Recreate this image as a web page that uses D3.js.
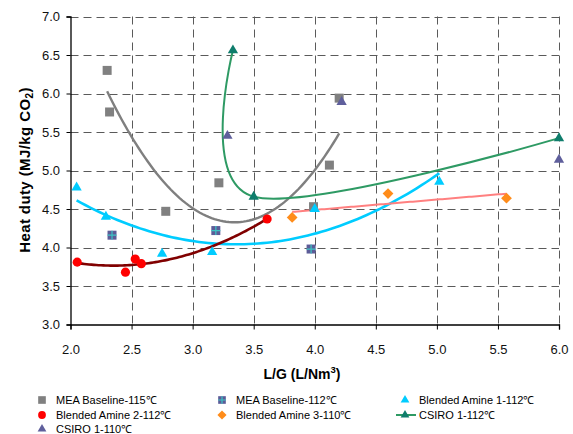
<!DOCTYPE html>
<html>
<head>
<meta charset="utf-8">
<script src="https://cdn.jsdelivr.net/npm/d3@7"></script>
<style>
  body { margin: 0; background: #fff; }
  text { font-family: "Liberation Sans", Arial, sans-serif; }
</style>
</head>
<body>
<svg id="chart" width="573" height="434"></svg>
<script>
// Axis ticks
const xTicks = [2.0, 2.5, 3.0, 3.5, 4.0, 4.5, 5.0, 5.5, 6.0];
const yTicks = [3.0, 3.5, 4.0, 4.5, 5.0, 5.5, 6.0, 6.5, 7.0];

// Measured heat duty vs liquid/gas ratio, one pair of arrays per solvent run
const meaBase115X = [2.30, 2.32, 2.78, 3.215, 3.99, 4.12, 4.20];
const meaBase115Y = [6.30, 5.76, 4.47, 4.84, 4.53, 5.07, 5.94];
const meaBase112X = [2.34, 3.19, 3.97];
const meaBase112Y = [4.16, 4.22, 3.98];
const blend1X = [2.05, 2.29, 2.75, 3.16, 4.00, 5.02];
const blend1Y = [4.78, 4.40, 3.92, 3.94, 4.50, 4.855];
const blend2X = [2.055, 2.45, 2.53, 2.58, 3.61];
const blend2Y = [3.81, 3.68, 3.85, 3.79, 4.37];
const blend3X = [3.815, 4.60, 5.57];
const blend3Y = [4.39, 4.70, 4.64];
const csiro112X = [3.33, 3.50, 6.00];
const csiro112Y = [6.56, 4.66, 5.42];
const csiro110X = [3.285, 4.22, 6.00];
const csiro110Y = [5.45, 5.89, 5.14];

const legendLabels = [
  "MEA Baseline-115\u2103", "MEA Baseline-112\u2103", "Blended Amine 1-112\u2103",
  "Blended Amine 2-112\u2103", "Blended Amine 3-110\u2103", "CSIRO 1-112\u2103",
  "CSIRO 1-110\u2103"
];

const svg = d3.select("#chart");
const plot = { left: 70.5, right: 559, top: 16.5, bottom: 324.5 };

const x = d3.scaleLinear().domain([2, 6]).range([plot.left, plot.right]);
const y = d3.scaleLinear().domain([3, 7]).range([plot.bottom, plot.top]);

// Dashed grid
const grid = svg.append("g").attr("stroke", "#5a5a5a").attr("stroke-width", 1)
  .attr("stroke-dasharray", "8,5");
grid.selectAll("line.h").data(yTicks.filter(d => d > 3)).join("line")
  .attr("x1", plot.left).attr("x2", plot.right)
  .attr("y1", d => Math.round(y(d)) + 0.5).attr("y2", d => Math.round(y(d)) + 0.5);
grid.selectAll("line.v").data(xTicks.filter(d => d > 2)).join("line")
  .attr("x1", d => Math.round(x(d)) + 0.5).attr("x2", d => Math.round(x(d)) + 0.5)
  .attr("y1", plot.top).attr("y2", plot.bottom);

// Axes
const xAxis = svg.append("g").attr("transform", `translate(0,${plot.bottom})`)
  .call(d3.axisBottom(x).tickValues(xTicks).tickFormat(d3.format(".1f"))
    .tickSize(5).tickPadding(15));
const yAxis = svg.append("g").attr("transform", `translate(${plot.left},0)`)
  .call(d3.axisLeft(y).tickValues(yTicks).tickFormat(d3.format(".1f"))
    .tickSize(4).tickPadding(6.5));
[xAxis, yAxis].forEach(a => {
  a.select(".domain").attr("stroke", "#000").attr("stroke-width", 1.3);
  a.selectAll(".tick line").attr("stroke", "#000");
  a.selectAll(".tick text").attr("font-size", 13).attr("fill", "#111")
    .attr("font-family", "'Liberation Sans', Arial, sans-serif");
});

// Least-squares polynomial fit
function polyfit(xs, ys, deg) {
  const n = deg + 1;
  const A = Array.from({ length: n }, () => new Array(n + 1).fill(0));
  xs.forEach((xv, k) => {
    for (let i = 0; i < n; i++) {
      for (let j = 0; j < n; j++) A[i][j] += Math.pow(xv, i + j);
      A[i][n] += ys[k] * Math.pow(xv, i);
    }
  });
  for (let c = 0; c < n; c++) {
    let p = c;
    for (let r = c + 1; r < n; r++) if (Math.abs(A[r][c]) > Math.abs(A[p][c])) p = r;
    [A[c], A[p]] = [A[p], A[c]];
    for (let r = 0; r < n; r++) {
      if (r === c) continue;
      const f = A[r][c] / A[c][c];
      for (let j = c; j <= n; j++) A[r][j] -= f * A[c][j];
    }
  }
  const coef = A.map((row, i) => row[n] / row[i]);
  return xv => coef.reduce((s, cf, i) => s + cf * Math.pow(xv, i), 0);
}

const trends = [
  { xs: meaBase115X, ys: meaBase115Y, deg: 2, color: "#7f7f7f", w: 2.4 },
  { xs: blend1X, ys: blend1Y, deg: 2, color: "#00ccff", w: 2.6 },
  { xs: blend2X, ys: blend2Y, deg: 2, color: "#800000", w: 2.6 },
  { xs: blend3X, ys: blend3Y, deg: 1, color: "#ff8080", w: 2 }
];
const line = d3.line().x(d => x(d[0])).y(d => y(d[1]));
trends.forEach(t => {
  const f = polyfit(t.xs, t.ys, t.deg);
  const [lo, hi] = d3.extent(t.xs);
  const pts = d3.range(0, 81).map(i => { const xv = lo + (hi - lo) * i / 80; return [xv, f(xv)]; });
  svg.append("path").attr("d", line(pts)).attr("fill", "none")
    .attr("stroke", t.color).attr("stroke-width", t.w);
});

// Smoothed connecting line for CSIRO 1-112
svg.append("path")
  .attr("d", d3.line().curve(d3.curveCatmullRom.alpha(0))
    .x(d => x(d[0])).y(d => y(d[1]))(d3.zip(csiro112X, csiro112Y)))
  .attr("fill", "none").attr("stroke", "#2e9a64").attr("stroke-width", 2);

// Marker drawing
function marker(g, kind, scale) {
  const s = scale || 1;
  if (kind === "square") {
    g.append("path").attr("d", d3.symbol(d3.symbolSquare, 81 * s * s)()).attr("fill", "#808080");
  } else if (kind === "squarePlus") {
    g.append("path").attr("d", d3.symbol(d3.symbolSquare, 81 * s * s)()).attr("fill", "#5c5c98");
    const h = 4.5 * s;
    g.append("path").attr("d", `M${-h},0H${h}M0,${-h}V${h}`)
      .attr("stroke", "#3cc4c4").attr("stroke-width", 1.2);
  } else if (kind === "triCyan") {
    g.append("path").attr("d", d3.symbol(d3.symbolTriangle, 46 * s * s)()).attr("fill", "#00ccff");
  } else if (kind === "circle") {
    g.append("path").attr("d", d3.symbol(d3.symbolCircle, 66 * s * s)()).attr("fill", "#ff0000");
  } else if (kind === "diamond") {
    g.append("path").attr("d", d3.symbol(d3.symbolSquare, 58 * s * s)())
      .attr("transform", "rotate(45)").attr("fill", "#ff8c1a");
  } else if (kind === "triGreen") {
    g.append("path").attr("d", d3.symbol(d3.symbolTriangle, 46 * s * s)()).attr("fill", "#0f7d6c");
  } else if (kind === "triPurple") {
    g.append("path").attr("d", d3.symbol(d3.symbolTriangle, 46 * s * s)()).attr("fill", "#5f5f9c");
  }
}

const series = [
  { xs: meaBase115X, ys: meaBase115Y, kind: "square" },
  { xs: meaBase112X, ys: meaBase112Y, kind: "squarePlus" },
  { xs: blend1X, ys: blend1Y, kind: "triCyan" },
  { xs: blend2X, ys: blend2Y, kind: "circle" },
  { xs: blend3X, ys: blend3Y, kind: "diamond" },
  { xs: csiro112X, ys: csiro112Y, kind: "triGreen" },
  { xs: csiro110X, ys: csiro110Y, kind: "triPurple" }
];
series.forEach(s => {
  d3.zip(s.xs, s.ys).forEach(([xv, yv]) => {
    const g = svg.append("g").attr("transform", `translate(${x(xv)},${y(yv)})`);
    marker(g, s.kind, 1);
  });
});

// Axis titles
const xt = svg.append("text").attr("x", 302).attr("y", 379).attr("text-anchor", "middle")
  .attr("font-size", 14).attr("font-weight", "bold").attr("fill", "#000");
xt.append("tspan").text("L/G (L/Nm");
xt.append("tspan").text("3").attr("font-size", 9.5).attr("dy", -6);
xt.append("tspan").text(")").attr("dy", 6);

const yt = svg.append("text").attr("transform", "translate(30,170) rotate(-90)")
  .attr("text-anchor", "middle").attr("font-size", 15).attr("font-weight", "bold")
  .attr("letter-spacing", 0.4).attr("fill", "#000");
yt.append("tspan").text("Heat duty (MJ/kg CO");
yt.append("tspan").text("2").attr("font-size", 10).attr("dy", 3);
yt.append("tspan").text(")").attr("dy", -3);

// Legend
const legendCols = [42, 222, 405];
const legendRows = [400, 415, 429];
const legendKinds = ["square", "squarePlus", "triCyan", "circle", "diamond", "triGreen", "triPurple"];
legendLabels.forEach((lab, i) => {
  const cx = legendCols[i % 3], cy = legendRows[Math.floor(i / 3)];
  const g = svg.append("g").attr("transform", `translate(${cx},${cy})`);
  if (i === 5) {
    g.append("line").attr("x1", -9).attr("x2", 11).attr("stroke", "#2e9a64").attr("stroke-width", 2);
  }
  marker(g, legendKinds[i], 0.85);
  svg.append("text").attr("x", cx + 14).attr("y", cy + 4).attr("font-size", 11)
    .attr("fill", "#000").text(lab);
});
</script>
</body>
</html>
